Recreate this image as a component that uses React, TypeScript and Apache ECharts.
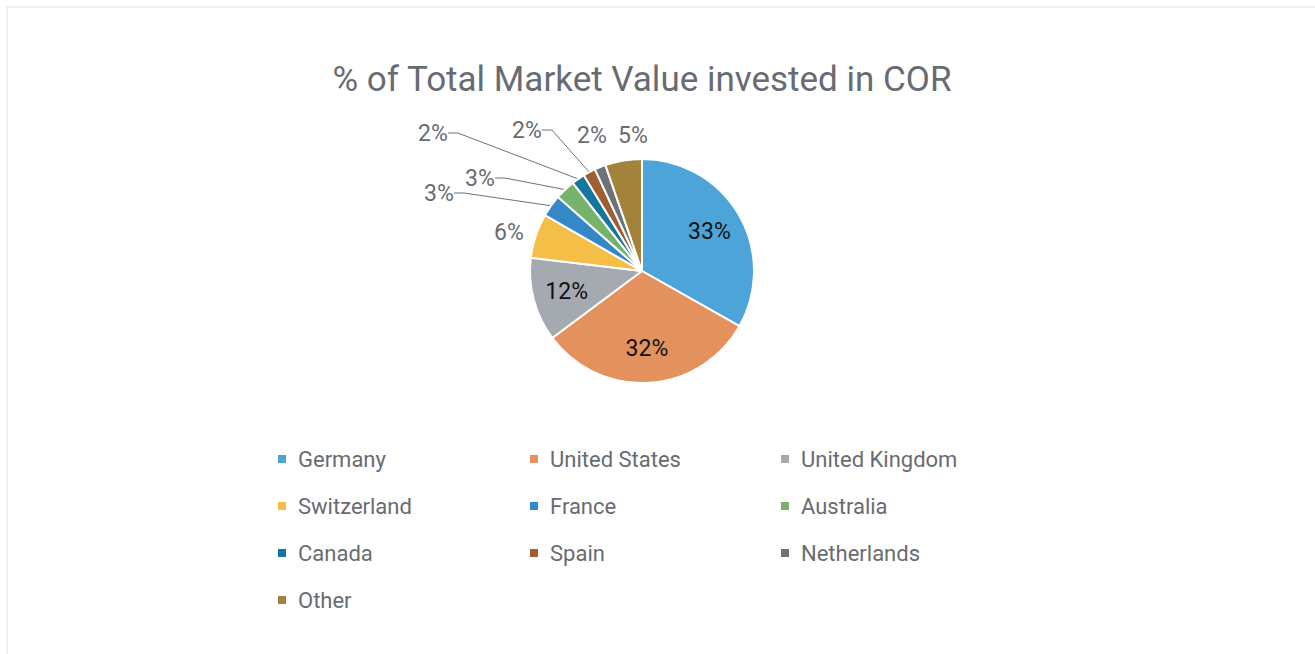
import React, { useEffect, useRef } from "react";
import * as echarts from "echarts";

const categories = [
  "Germany",
  "United States",
  "United Kingdom",
  "Switzerland",
  "France",
  "Australia",
  "Canada",
  "Spain",
  "Netherlands",
  "Other",
];
const values = [33.2, 31.6, 12.1, 6.4, 3.2, 2.9, 1.9, 1.8, 1.6, 5.3];
const colors = [
  "#4DA4D8",
  "#E3915D",
  "#A5A9B0",
  "#F5BF47",
  "#3588C8",
  "#76B36A",
  "#13769E",
  "#9F5F33",
  "#6C7277",
  "#A3833A",
];
const insideThreshold = 10;
const legendCol1 = ["Germany", "Switzerland", "Canada", "Other"];
const legendCol2 = ["United States", "France", "Spain"];
const legendCol3 = ["United Kingdom", "Australia", "Netherlands"];

// layout: where the outside labels sit (label centres, px)
const outsideLabelCenters: Record<string, [number, number]> = {
  Switzerland: [509, 232],
  France: [439, 193],
  Australia: [480, 178],
  Canada: [433, 133],
  Spain: [527, 130],
  Netherlands: [592, 135],
  Other: [633, 135],
};
const noLine = ["Switzerland", "Netherlands", "Other"];

const FONT = "Roboto, 'Noto Sans', sans-serif";
const GREY = "#686C72";

export default function App() {
  const ref = useRef<HTMLDivElement>(null);
  useEffect(() => {
    if (!ref.current) return;
    const chart = echarts.init(ref.current, null, { renderer: "svg" });
    const total = values.reduce((a, b) => a + b, 0);
    const fmt = (v: number) => Math.round((v / total) * 100) + "%";
    const mainData = categories.map((name, i) => {
      const big = values[i] >= insideThreshold;
      return {
        name,
        value: values[i],
        itemStyle: { color: colors[i] },
        label: { show: !big },
        labelLine: { show: !big && noLine.indexOf(name) < 0 },
      };
    });
    const ghostData = categories.map((name, i) => {
      const big = values[i] >= insideThreshold;
      return {
        name,
        value: values[i],
        itemStyle: { color: "rgba(0,0,0,0)" },
        label: { show: big },
      };
    });
    const legendBase = {
      orient: "vertical" as const,
      icon: "rect",
      itemWidth: 10,
      itemHeight: 10,
      itemGap: 25,
      top: 448,
      padding: 0,
      selectedMode: false,
      textStyle: {
        fontFamily: FONT,
        fontSize: 22,
        lineHeight: 22,
        color: GREY,
        padding: [0, 0, 0, 6],
      },
    };
    chart.setOption({
      animation: false,
      backgroundColor: "transparent",
      title: {
        text: "% of Total Market Value invested in COR",
        left: 642,
        textAlign: "center",
        top: 62,
        padding: 0,
        textStyle: {
          fontFamily: FONT,
          fontSize: 35,
          fontWeight: "normal",
          color: GREY,
        },
      },
      legend: [
        { ...legendBase, left: 276, data: legendCol1 },
        { ...legendBase, left: 528, data: legendCol2 },
        { ...legendBase, left: 779, data: legendCol3 },
      ],
      series: [
        {
          type: "pie",
          center: [642, 271],
          radius: 112,
          startAngle: 90,
          clockwise: true,
          avoidLabelOverlap: false,
          data: mainData,
          itemStyle: { borderColor: "#ffffff", borderWidth: 2 },
          label: {
            position: "outside",
            formatter: (p: any) => fmt(p.value),
            fontFamily: FONT,
            fontSize: 23,
            color: GREY,
          },
          labelLine: {
            length: 10,
            length2: 10,
            lineStyle: { color: "#6E7278", width: 1 },
          },
          labelLayout: (params: any) => {
            const name = categories[params.dataIndex];
            const pos = outsideLabelCenters[name];
            if (!pos) return {};
            return { x: pos[0], y: pos[1], align: "center", verticalAlign: "middle" };
          },
          emphasis: { disabled: true },
        },
        {
          type: "pie",
          center: [642, 271],
          radius: 150,
          startAngle: 90,
          clockwise: true,
          silent: true,
          data: ghostData,
          label: {
            position: "inside",
            formatter: (p: any) => fmt(p.value),
            fontFamily: FONT,
            fontSize: 23,
            color: "#111111",
          },
          labelLine: { show: false },
          emphasis: { disabled: true },
        },
      ],
    });
    return () => chart.dispose();
  }, []);
  return (
    <div style={{ position: "fixed", left: 0, top: 0, width: 1315, height: 654, background: "#fff" }}>
      <div
        style={{
          position: "absolute",
          left: 6,
          top: 6,
          width: 1320,
          height: 660,
          border: "2px solid #EFEFEF",
          boxSizing: "border-box",
        }}
      />
      <div ref={ref} style={{ position: "absolute", left: 0, top: 0, width: 1315, height: 654 }} />
    </div>
  );
}
